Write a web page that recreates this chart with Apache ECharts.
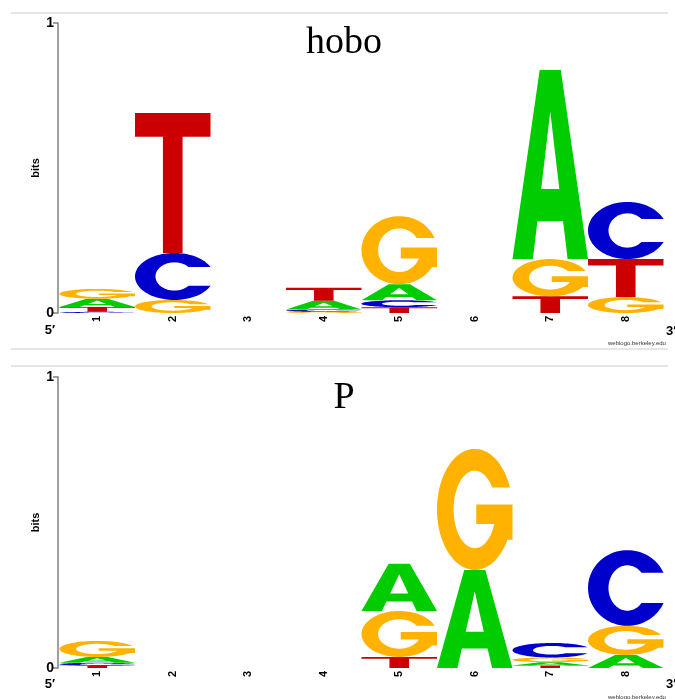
<!DOCTYPE html>
<html>
<head>
<meta charset="utf-8">
<script src="https://cdn.jsdelivr.net/npm/echarts@6/dist/echarts.min.js"></script>
<style>
html,body{margin:0;padding:0;background:#fff;}
#c{width:675px;height:699px;}
</style>
</head>
<body>
<div id="c"></div>
<script>
// ---- data ----
const positions = ['1', '2', '3', '4', '5', '6', '7', '8'];
const titles = ['hobo', 'P'];
// hobo panel (bits)
const hoboA = [0.028, 0, 0, 0.030, 0.055, 0, 0.652, 0];
const hoboC = [0.004, 0.162, 0, 0.008, 0.024, 0, 0, 0.197];
const hoboG = [0.034, 0.045, 0, 0.004, 0.235, 0, 0.128, 0.055];
const hoboT = [0.017, 0.483, 0, 0.045, 0.020, 0, 0.058, 0.131];
// P panel (bits)
const pA = [0.020, 0, 0, 0, 0.162, 0.337, 0.011, 0.045];
const pC = [0.010, 0, 0, 0, 0, 0, 0.050, 0.260];
const pG = [0.055, 0, 0, 0, 0.158, 0.416, 0.016, 0.100];
const pT = [0.008, 0, 0, 0, 0.038, 0, 0.009, 0];

// ---- glyph shapes (unit box 0..100) ----
function ell(cx, cy, rx, ry, t) { const r = t * Math.PI / 180; return [cx + rx * Math.cos(r), cy + ry * Math.sin(r)]; }
function arcPts(rx, ry, t0, t1, n) {
  const pts = [];
  for (let i = 0; i <= n; i++) pts.push(ell(50, 50, rx, ry, t0 + (t1 - t0) * i / n));
  return pts;
}
function toPath(pts) { return 'M' + pts.map(p => p[0].toFixed(2) + ',' + p[1].toFixed(2)).join(' L') + ' Z'; }
function buildC() {
  const oT = Math.asin(-0.40) * 180 / Math.PI;
  const iT = Math.asin(-20 / 30) * 180 / Math.PI;
  let pts = arcPts(50, 50, oT, -360 - oT, 80);
  pts = pts.concat(arcPts(24, 30, -360 - iT, iT, 80));
  return toPath(pts);
}
function buildG() {
  const oT = Math.asin(-0.36) * 180 / Math.PI;
  const iT = Math.asin(-18 / 32) * 180 / Math.PI;
  const iB = Math.asin(12 / 32) * 180 / Math.PI;
  let pts = arcPts(50, 50, oT, -330, 80);
  pts.push([100, 75], [100, 46], [52, 46], [52, 62]);
  pts = pts.concat(arcPts(28, 32, iB - 360, iT, 80));
  return toPath(pts);
}
const PATHS = {
  A: 'M0,100 L36,0 L64,0 L100,100 L73,100 L67,80 L33,80 L27,100 Z M50,22 L38,63 L62,63 Z',
  C: buildC(),
  G: buildG(),
  T: 'M0,0 L100,0 L100,17 L63,17 L63,100 L37,100 L37,17 L0,17 Z'
};
const COLORS = { A: '#00cc00', C: '#0000cc', G: '#ffb300', T: '#cc0000' };
const LETTERS = ['A', 'C', 'G', 'T'];

function renderItem(params, api) {
  const idx = api.value(0);
  const stack = LETTERS.map((L, i) => ({ L: L, h: api.value(i + 1) }))
    .filter(o => o.h > 0).sort((a, b) => a.h - b.h);
  const w = api.size([1, 0])[0];
  const cx = api.coord([idx, 0])[0];
  let cum = 0;
  const children = [];
  stack.forEach(o => {
    const yb = api.coord([idx, cum])[1];
    cum += o.h;
    const yt = api.coord([idx, cum])[1];
    children.push({
      type: 'path',
      shape: { pathData: PATHS[o.L], x: cx - w / 2, y: yt, width: w, height: Math.max(yb - yt, 0.3), layout: 'cover' },
      style: { fill: COLORS[o.L] }
    });
  });
  return { type: 'group', children: children };
}

const panels = [
  { A: hoboA, C: hoboC, G: hoboG, T: hoboT, top: 23, height: 290 },
  { A: pA, C: pC, G: pG, T: pT, top: 377, height: 291 }
];
const FONT = 'Liberation Sans';

const option = {
  animation: false,
  backgroundColor: '#fff',
  grid: panels.map(p => ({ left: 59.5, width: 604, top: p.top, height: p.height })),
  xAxis: panels.map((p, i) => ({
    type: 'category', gridIndex: i, data: positions, boundaryGap: true,
    axisLine: { show: false }, axisTick: { show: false }, splitLine: { show: false },
    axisLabel: { rotate: 90, margin: 3, color: '#000', fontWeight: 'bold', fontSize: 11, fontFamily: FONT }
  })),
  yAxis: panels.map((p, i) => ({
    type: 'value', gridIndex: i, min: 0, max: 1, interval: 1, offset: 1.5,
    name: 'bits', nameLocation: 'middle', nameRotate: 90, nameGap: 17, nameMoveOverlap: false,
    nameTextStyle: { color: '#000', fontWeight: 'bold', fontSize: 11, fontFamily: FONT },
    axisLine: { show: true, lineStyle: { color: '#808080', width: 1.5 } },
    axisTick: { show: true, length: 5, lineStyle: { color: '#808080', width: 1.5 } },
    axisLabel: { margin: 4, color: '#000', fontWeight: 'bold', fontSize: 14, fontFamily: FONT },
    splitLine: { show: false }
  })),
  series: panels.map((p, i) => ({
    type: 'custom', xAxisIndex: i, yAxisIndex: i,
    renderItem: renderItem,
    encode: { x: 0, y: [1, 2, 3, 4] },
    data: positions.map((_, k) => [k, p.A[k], p.C[k], p.G[k], p.T[k]])
  })),
  graphic: [
    { type: 'line', shape: { x1: 11, y1: 13, x2: 668, y2: 13 }, style: { stroke: '#dddddd', lineWidth: 1.5 } },
    { type: 'line', shape: { x1: 11, y1: 349, x2: 668, y2: 349 }, style: { stroke: '#dddddd', lineWidth: 1.5 } },
    { type: 'line', shape: { x1: 11, y1: 366, x2: 668, y2: 366 }, style: { stroke: '#dddddd', lineWidth: 1.5 } },
    { type: 'text', x: 344, y: 62, style: { text: titles[0], font: '38px "Liberation Serif"', fill: '#000', textAlign: 'center', textVerticalAlign: 'bottom' } },
    { type: 'text', x: 344, y: 417, style: { text: titles[1], font: '38px "Liberation Serif"', fill: '#000', textAlign: 'center', textVerticalAlign: 'bottom' } },
    { type: 'text', x: 50, y: 330, style: { text: "5\u2032", font: 'bold 13px "Liberation Sans"', fill: '#000', textAlign: 'center', textVerticalAlign: 'middle' } },
    { type: 'text', x: 666, y: 331, style: { text: "3\u2032", font: 'bold 13px "Liberation Sans"', fill: '#000', textAlign: 'left', textVerticalAlign: 'middle' } },
    { type: 'text', x: 608, y: 343, style: { text: 'weblogo.berkeley.edu', font: '6px "Liberation Sans"', fill: '#333', textAlign: 'left', textVerticalAlign: 'middle' } },
    { type: 'text', x: 50, y: 684, style: { text: "5\u2032", font: 'bold 13px "Liberation Sans"', fill: '#000', textAlign: 'center', textVerticalAlign: 'middle' } },
    { type: 'text', x: 666, y: 684, style: { text: "3\u2032", font: 'bold 13px "Liberation Sans"', fill: '#000', textAlign: 'left', textVerticalAlign: 'middle' } },
    { type: 'text', x: 608, y: 697, style: { text: 'weblogo.berkeley.edu', font: '6px "Liberation Sans"', fill: '#333', textAlign: 'left', textVerticalAlign: 'middle' } }
  ]
};
const chart = echarts.init(document.getElementById('c'), null, { renderer: 'canvas' });
chart.setOption(option);
</script>
</body>
</html>
